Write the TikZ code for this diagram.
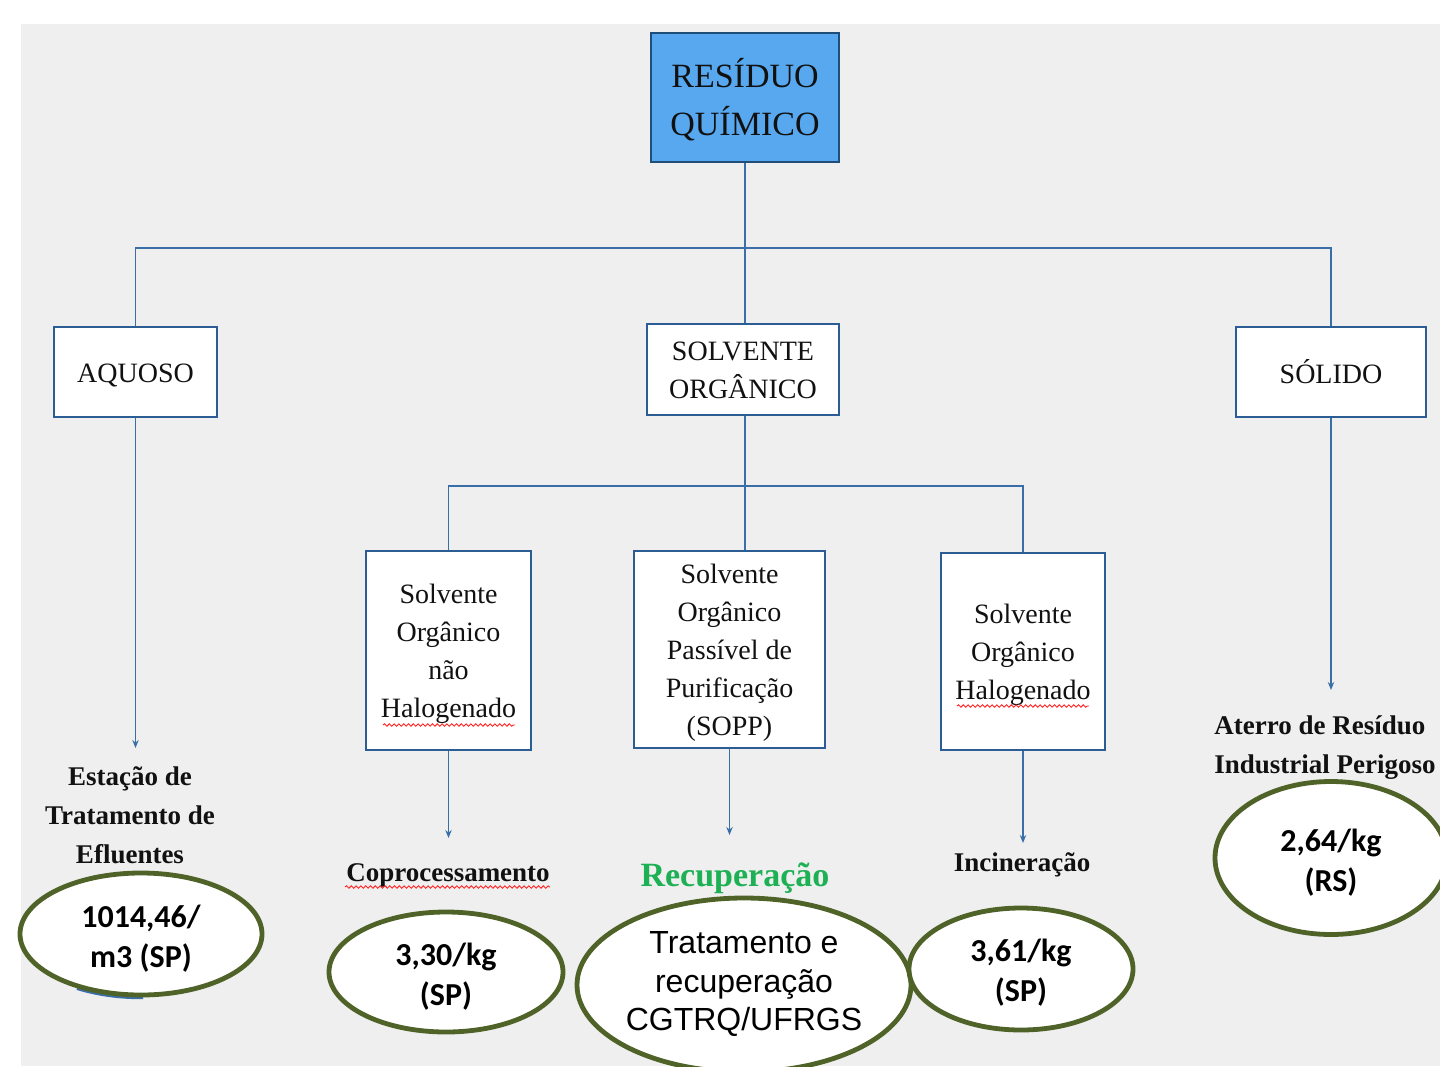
\documentclass[tikz,border=0pt]{standalone}
\usepackage{fontspec}
\setmainfont{Liberation Serif}
\newfontfamily\carl{Carlito}
\newfontfamily\arialf{Liberation Sans}
\usetikzlibrary{arrows.meta,shapes.geometric,decorations.pathmorphing}
\definecolor{bgc}{HTML}{EFEFEF}
\definecolor{boxc}{HTML}{2C5C94}
\definecolor{linec}{HTML}{3A6EA8}
\definecolor{topfill}{HTML}{58A8F0}
\definecolor{topdraw}{HTML}{1F4E79}
\definecolor{olivec}{HTML}{4F6228}
\definecolor{recg}{HTML}{1DB054}
\definecolor{txt}{HTML}{111111}
\begin{document}
\begin{tikzpicture}[x=0.5pt,y=-0.5pt,
  box/.style={draw=boxc, line width=1.4pt, fill=white, inner sep=0pt},
  topbox/.style={box, fill=topfill, draw=topdraw},
  btxt/.style={inner sep=0pt, align=center, text=txt, font=\fontsize{14}{19}\selectfont},
  conn/.style={draw=linec, line width=0.8pt},
  arr/.style={conn, -{Stealth[length=4pt,width=3.2pt]}},
  ell/.style={ellipse, draw=olivec, line width=2.4pt, fill=white, inner sep=0pt},
  etxt/.style={inner sep=0pt, align=center, text=black, font=\carl\bfseries\fontsize{16}{20}\selectfont},
  lbl/.style={inner sep=0pt, align=center, text=txt, font=\bfseries\fontsize{13.5}{19.5}\selectfont},
  wavy/.style={draw=red!85!white, line width=0.45pt, decorate, decoration={snake, amplitude=0.6pt, segment length=2.4pt}}
]
\clip (0,0) rectangle (1440,1066);
\fill[white] (0,0) rectangle (1440,1066);
\fill[bgc] (21,24) rectangle (1440,1066);

% boxes
\node[topbox, minimum width=94pt, minimum height=64.5pt] (res) at (745,97.5) {};
\node[btxt, font=\fontsize{17}{24}\selectfont] (rest) at ([yshift=-1pt]res.center) {RESÍDUO\\QUÍMICO};
\node[box, minimum width=81.5pt, minimum height=45pt] (aq) at (135.5,372) {};
\node[btxt] (aqt) at ([yshift=-1.5pt]aq.center) {AQUOSO};
\node[box, minimum width=96pt, minimum height=45.5pt] (sol) at (743,369.5) {};
\node[btxt] (solt) at ([yshift=-0.5pt]sol.center) {SOLVENTE\\ORGÂNICO};
\node[box, minimum width=95pt, minimum height=45pt] (sod) at (1331,372) {};
\node[btxt] (sodt) at (sod.center) {SÓLIDO};
\node[box, minimum width=82.5pt, minimum height=99.5pt] (b1) at (448.5,650.5) {};
\node[btxt] (b1t) at ([yshift=-1.5pt]b1.center) {Solvente\\Orgânico\\não\\Halogenado};
\node[box, minimum width=95.5pt, minimum height=98.5pt] (b2) at (729.5,649.5) {};
\node[btxt] (b2t) at ([yshift=-1.5pt]b2.center) {Solvente\\Orgânico\\Passível de\\Purificação\\(SOPP)};
\node[box, minimum width=82pt, minimum height=98.5pt] (b3) at (1023,651.5) {};
\node[btxt] (b3t) at ([yshift=-1.5pt]b3.center) {Solvente\\Orgânico\\Halogenado};

% first level connectors
\coordinate (j1) at (745,248);
\draw[conn] (res.south) -- (j1);
\draw[conn] (j1) -- (j1 |- sol.north);
\draw[conn] (aq.north) |- (j1) -| (sod.north);

% second level connectors
\coordinate (j2) at (745,486);
\draw[conn] (sol.south -| j2) -- (j2 |- b2.north);
\draw[conn] (b1.north) |- (j2) -| (b3.north);

% arrows
\coordinate (a1) at (135.5,748);
\coordinate (a2) at (1331,690);
\coordinate (a3) at (448.5,838);
\coordinate (a4) at (729.5,835);
\coordinate (a5) at (1023,843);
\draw[arr] (aq.south) -- (a1);
\draw[arr] (sod.south) -- (a2);
\draw[arr] (b1.south) -- (a3);
\draw[arr] (b2.south) -- (a4);
\draw[arr] (b3.south) -- (a5);

% labels
\node[lbl] (etl) at (130,815) {Estação de\\Tratamento de\\Efluentes};
\node[lbl] (cop) at (448,875) {Coprocessamento};
\node[lbl, text=recg, font=\bfseries\fontsize{17}{20}\selectfont] (rec) at (735,878) {Recuperação};
\node[lbl] (inc) at (1022,865) {Incineração};
\node[lbl, align=left, anchor=west] (ate) at (1214,748) {Aterro de Resíduo\\Industrial Perigoso};

% spell-check underlines
\draw[wavy] (345,887) -- (550,887);
\draw[wavy] (383,725) -- (515,725);
\draw[wavy] (957,706) -- (1089,706);

% ellipses
\draw[linec, line width=1.2pt] (141,937) ++(122:121 and 61) arc[start angle=122, end angle=89, x radius=121, y radius=61];
\node[ell, minimum width=121pt, minimum height=61pt] (e1) at (141,934) {};
\node[etxt] (e1t) at ([yshift=-2.2pt]e1.center) {1014,46/\\m3 (SP)};
\node[ell, minimum width=117pt, minimum height=60pt] (e2) at (446,972) {};
\node[etxt] (e2t) at ([yshift=-2.2pt]e2.center) {3,30/kg\\(SP)};
\node[ell, minimum width=167pt, minimum height=87pt] (e3) at (744,985) {};
\node[etxt, font=\arialf\fontsize{16}{19.5}\selectfont] (e3t) at (744,984) {Tratamento e\\recuperação\\CGTRQ/UFRGS};
\node[ell, minimum width=112pt, minimum height=61pt] (e4) at (1021,969) {};
\node[etxt] (e4t) at ([yshift=-2pt]e4.center) {3,61/kg\\(SP)};
\node[ell, minimum width=116pt, minimum height=76.5pt] (e5) at (1331,858) {};
\node[etxt] (e5t) at ([yshift=-2.5pt]e5.center) {2,64/kg\\(RS)};
\end{tikzpicture}
\end{document}
